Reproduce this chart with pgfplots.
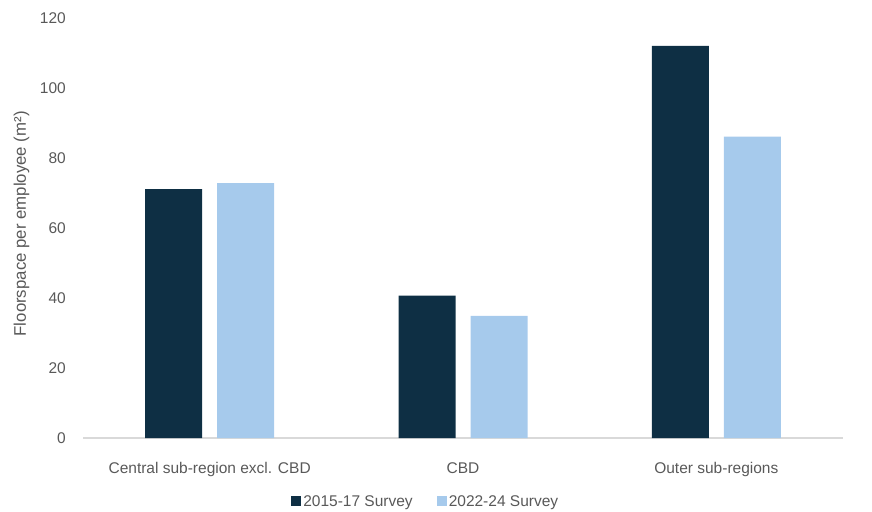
\documentclass[border=0pt]{standalone}
\usepackage{pgfplots}
\pgfplotsset{compat=1.18}
\usepackage{fontspec}
\setmainfont{Liberation Sans}
\definecolor{darknavy}{HTML}{0E2F44}
\definecolor{lightblue}{HTML}{A6CAEC}
\definecolor{txtgrey}{HTML}{595959}
\definecolor{axgrey}{HTML}{D9D9D9}
\begin{document}
\begin{tikzpicture}[x=1pt,y=1pt]
\path[use as bounding box] (0,0) rectangle (872,511);
\begin{axis}[
  at={(83pt,73pt)}, anchor=south west,
  scale only axis, width=760pt, height=420pt,
  ybar, bar width=57pt,
  xmin=-0.5, xmax=2.5, ymin=0, ymax=120,
  xtick=data,
  xticklabels={Central sub-region excl. CBD, CBD, Outer sub-regions},
  ytick={0,20,...,120},
  axis x line*=bottom, axis y line*=left,
  x axis line style={draw=axgrey, line width=1.2pt},
  y axis line style={draw=none},
  xtick style={draw=none},
  ytick style={draw=none},
  tick label style={font=\fontsize{15.5}{18}\selectfont, text=txtgrey},
  /pgf/number format/assume math mode=true,
  xticklabel style={anchor=base, yshift=-31pt},
  yticklabel style={anchor=east, inner sep=0pt, xshift=-17pt},
  ylabel={Floorspace per employee (m²)},
  ylabel style={font=\fontsize{16.8}{19}\selectfont, text=txtgrey,
    at={(axis description cs:-0.0809,0.51)}, anchor=center},
  enlarge x limits=false,
  legend columns=2,
  legend style={draw=none, at={(0.451,-0.151)}, anchor=center,
    font=\fontsize{15.5}{17}\selectfont, text=txtgrey,
    /tikz/every even column/.append style={column sep=22pt}},
  legend image code/.code={\fill[#1] (0pt,-5pt) rectangle (10pt,5pt);},
]
\addplot[ybar, fill=darknavy, draw=none, bar shift=-36pt]
  coordinates {(0,71.1) (1,40.7) (2,112.0)};
\addplot[ybar, fill=lightblue, draw=none, bar shift=36pt]
  coordinates {(0,72.8) (1,34.9) (2,86.1)};
\legend{2015-17 Survey, 2022-24 Survey}
\end{axis}
\end{tikzpicture}
\end{document}
